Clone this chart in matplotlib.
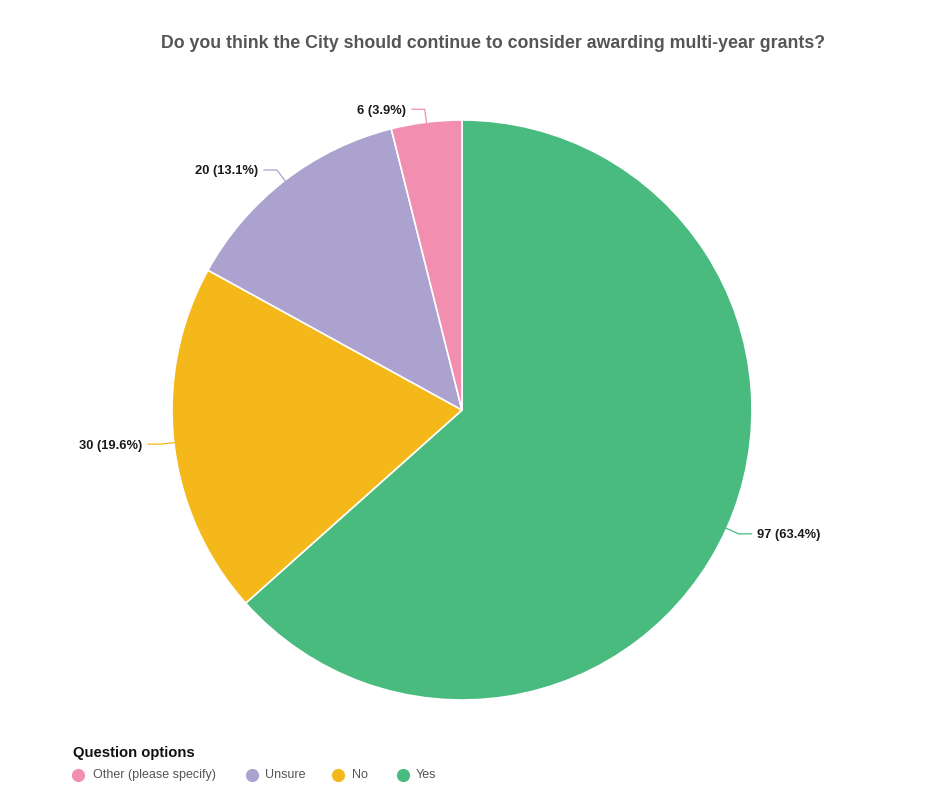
import matplotlib
matplotlib.use("Agg")
import matplotlib.pyplot as plt
from matplotlib.lines import Line2D
import numpy as np

plt.rcParams['font.family'] = ['Liberation Sans', 'DejaVu Sans']

categories = ["Yes", "No", "Unsure", "Other (please specify)"]
values = [97, 30, 20, 6]
colors = ["#4abb7f", "#f4b81b", "#aca2cf", "#f28fb0"]
legend_order = ["Other (please specify)", "Unsure", "No", "Yes"]
title = "Do you think the City should continue to consider awarding multi-year grants?"

W, H = 944, 805
fig = plt.figure(figsize=(W / 100, H / 100), dpi=100)
cx, cy, R = 462, 410, 290
ax = fig.add_axes([(cx - R) / W, (H - cy - R) / H, 2 * R / W, 2 * R / H])

wedges, _ = ax.pie(values, colors=colors, startangle=90, counterclock=False,
                   wedgeprops=dict(edgecolor="white", linewidth=1.2))
ax.set_xlim(-1, 1)
ax.set_ylim(-1, 1)
ax.set_aspect("equal")
ax.axis("off")

total = sum(values)
for w, v, c in zip(wedges, values, colors):
    ang = np.deg2rad((w.theta1 + w.theta2) / 2)
    ca, sa = np.cos(ang), np.sin(ang)
    x0, y0 = 0.995 * ca, 0.995 * sa
    x1, y1 = 1.045 * ca, 1.045 * sa
    side = 1 if ca >= 0 else -1
    x2 = x1 + side * 0.045
    ax.plot([x0, x1, x2], [y0, y1, y1], color=c, lw=0.9, clip_on=False,
            solid_capstyle="round")
    ax.text(x2 + side * 0.02, y1 - 0.005, f"{v} ({v / total * 100:.1f}%)",
            ha="left" if side > 0 else "right", va="center",
            fontsize=9.3, fontweight="bold", color="#1a1a1a")

fig.text(493 / W, 1 - 43 / H, title, ha="center", va="center",
         fontsize=12.8, fontweight="bold", color="#555555")

# legend (manual layout)
fig.text(73 / W, 1 - 753 / H, "Question options", ha="left", va="center",
         fontsize=10.7, fontweight="bold", color="#111111")
marker_x = [78, 252, 338, 403]
text_x = [93, 265, 352, 416]
ly = 1 - 775 / H
for name, mx, tx in zip(legend_order, marker_x, text_x):
    col = colors[categories.index(name)]
    fig.add_artist(Line2D([mx / W], [ly], marker="o", linestyle="none",
                          markersize=9.5, markerfacecolor=col,
                          markeredgewidth=0, transform=fig.transFigure))
    fig.text(tx / W, ly, name, ha="left", va="center", fontsize=9,
             color="#555555")

fig.savefig("out.png", dpi=100, facecolor="white")
